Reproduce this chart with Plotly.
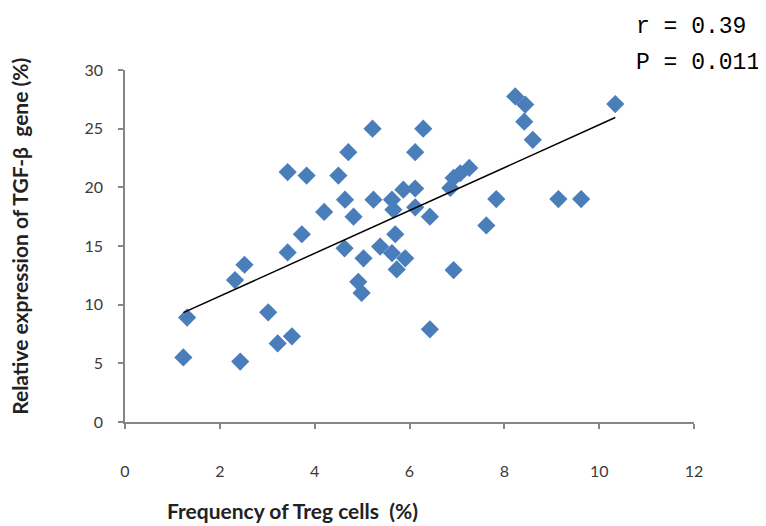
import numpy as np
import plotly.graph_objects as go

# Frequency of Treg cells (%)
treg_freq = [1.23, 1.31, 2.32, 2.52, 2.43, 3.02, 3.22, 3.52, 3.43, 3.43,
             3.83, 3.73, 4.20, 4.50, 4.64, 4.63, 4.71, 4.82, 5.03, 4.92,
             4.99, 5.22, 5.24, 5.38, 5.63, 5.66, 5.63, 5.70, 5.73, 5.91,
             5.87, 6.12, 6.12, 6.12, 6.29, 6.43, 6.43, 6.93, 6.86, 6.93,
             7.07, 7.26, 7.62, 7.83, 8.23, 8.44, 8.42, 8.60, 9.14, 9.62,
             10.34]
# Relative expression of TGF-beta gene (%)
tgfb_expr = [5.5, 8.9, 12.1, 13.4, 5.15, 9.35, 6.7, 7.3, 14.45, 21.3,
             21.0, 16.0, 17.9, 21.0, 18.95, 14.8, 23.0, 17.5, 13.95, 11.95,
             11.0, 25.0, 18.95, 14.95, 18.95, 18.1, 14.4, 16.0, 13.0, 13.95,
             19.8, 19.9, 23.0, 18.3, 25.0, 17.5, 7.9, 12.95, 19.95, 20.8,
             21.2, 21.65, 16.75, 19.0, 27.75, 27.05, 25.6, 24.05, 19.0, 19.0,
             27.1]

stats_lines = ["r = 0.39", "P = 0.011"]
x_ticks = [0, 2, 4, 6, 8, 10, 12]
y_ticks = [0, 5, 10, 15, 20, 25, 30]

slope, intercept = np.polyfit(treg_freq, tgfb_expr, 1)
fit_x = [min(treg_freq), max(treg_freq)]
fit_y = [slope * v + intercept for v in fit_x]

fig = go.Figure()
fig.add_trace(go.Scatter(
    x=treg_freq, y=tgfb_expr, mode="markers",
    marker=dict(symbol="diamond", size=14, color="#4A7EBB",
                line=dict(width=0)),
    showlegend=False, hoverinfo="x+y"))
fig.add_trace(go.Scatter(
    x=fit_x, y=fit_y, mode="lines",
    line=dict(color="black", width=1.5),
    showlegend=False, hoverinfo="skip"))

axis_common = dict(showgrid=False, zeroline=False, showline=True,
                   linecolor="#868686", linewidth=1.5,
                   ticks="outside", ticklen=5, tickcolor="#868686",
                   tickwidth=1.5,
                   tickfont=dict(family="Lato, Open Sans, sans-serif",
                                 size=16, color="#3a3a3a"))

fig.update_layout(
    width=766, height=526,
    margin=dict(l=117, r=80, t=62, b=112),
    paper_bgcolor="white", plot_bgcolor="white",
    xaxis=dict(range=[0, 12], tickvals=x_ticks, ticklabelstandoff=29,
               **axis_common),
    yaxis=dict(range=[0, 30], tickvals=y_ticks, ticklabelstandoff=12,
               **axis_common),
    annotations=[
        dict(text=stats_lines[0], xref="paper", yref="paper",
             x=0.895, y=1.122, xanchor="left", yanchor="middle",
             showarrow=False,
             font=dict(family="Liberation Mono, monospace", size=23,
                       color="black")),
        dict(text=stats_lines[1], xref="paper", yref="paper",
             x=0.895, y=1.02, xanchor="left", yanchor="middle",
             showarrow=False,
             font=dict(family="Liberation Mono, monospace", size=23,
                       color="black")),
        dict(text="<b>Frequency of Treg cells  (%)</b>", xref="paper",
             yref="paper", x=0.2935, y=-0.25, xanchor="center",
             yanchor="middle", showarrow=False,
             font=dict(family="Lato, Open Sans, sans-serif", size=21,
                       color="#222222")),
        dict(text="<b>Relative expression of TGF-β  gene (%)</b>",
             xref="paper", yref="paper", x=-0.1845, y=0.526,
             xanchor="center", yanchor="middle", textangle=-90,
             showarrow=False,
             font=dict(family="Lato, Open Sans, sans-serif", size=21,
                       color="#222222")),
    ],
)

fig.write_html("out.html")
